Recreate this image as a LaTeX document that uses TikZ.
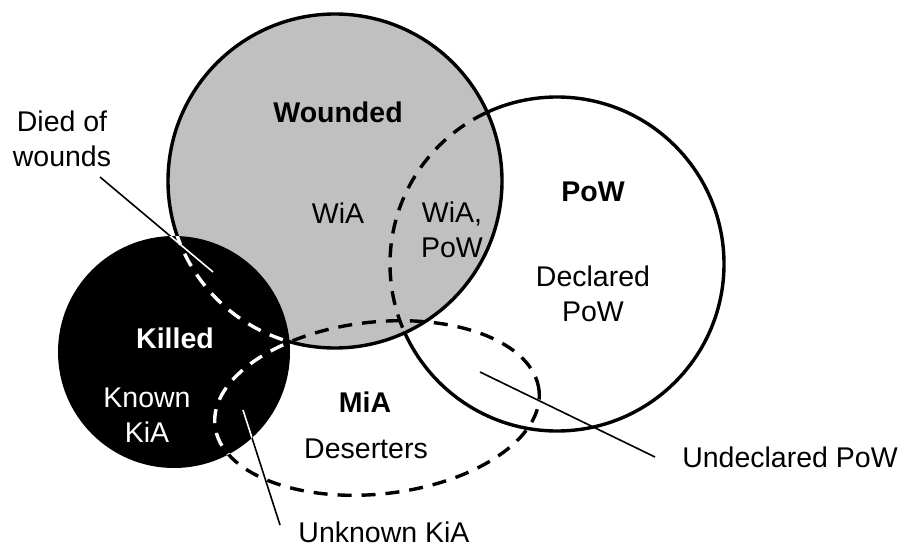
\documentclass[tikz,border=0pt]{standalone}
\usepackage{fontspec}
\setmainfont{Liberation Sans}
\definecolor{wgrey}{RGB}{192,192,192}
\begin{document}
\begin{tikzpicture}[x=1pt,y=-1pt,
  lbl/.style={font=\fontsize{28.5}{35}\selectfont, inner sep=0pt, align=center},
  bld/.style={font=\fontsize{28.5}{35}\selectfont\bfseries, inner sep=0pt, align=center},
  outline/.style={line width=3.4pt},
  dashline/.style={line width=3.4pt, dash pattern=on 14pt off 10pt},
  lead/.style={line width=1.6pt}]
\useasboundingbox (0,0) rectangle (904,548);
\fill[white] (0,0) rectangle (904,548);
% centres
\coordinate (cP) at (557,264);
\coordinate (cW) at (335,181);
\coordinate (cK) at (174,352);
\coordinate (cM) at (377,408);
% PoW
\path[fill=white, draw=black, outline] (cP) circle[radius=167pt];
% Wounded
\path[fill=wgrey, draw=black, outline] (cW) circle[radius=167pt];
\begin{scope}
  \clip (cW) circle[radius=167pt];
  \draw[dashline] (cP) circle[radius=167pt];
\end{scope}
% Killed
\fill[black] (cK) circle[radius=116pt];
% MiA
\draw[dashline, rotate around={6.2:(377,408)}] (377,408) ellipse[x radius=163pt, y radius=86pt];
% leader lines
\coordinate (dowA) at (100,177);
\coordinate (dowB) at (213,272);
\coordinate (ukA) at (243,410);
\coordinate (ukB) at (280,525);
\coordinate (udA) at (480,372);
\coordinate (udB) at (655,457);
\draw[lead] (dowA) -- (dowB);
\draw[lead] (ukA) -- (ukB);
\draw[lead] (udA) -- (udB);
% white parts inside Killed
\begin{scope}
  \clip (cK) circle[radius=116pt];
  \draw[dashline, white] (cW) circle[radius=167pt];
  \draw[dashline, white, rotate around={6.2:(377,408)}] (377,408) ellipse[x radius=163pt, y radius=86pt];
  \draw[lead, white] (dowA) -- (dowB);
  \draw[lead, white] (ukA) -- (ukB);
\end{scope}
% labels
\node[bld] (tW) at (338,112) {Wounded};
\node[lbl] (tWiA) at (338,213) {WiA};
\node[lbl] (tWP) at (452,230) {WiA,\\PoW};
\node[bld] (tP) at (593,192) {PoW};
\node[lbl] (tDP) at (593,294) {Declared\\PoW};
\node[bld, white] (tK) at (175,338) {Killed};
\node[lbl, white] (tKK) at (147,415) {Known\\KiA};
\node[bld] (tM) at (365,402) {MiA};
\node[lbl] (tD) at (366,449) {Deserters};
\node[lbl] (tDOW) at (62,139) {Died of\\wounds};
\node[lbl] (tUK) at (384,532) {Unknown KiA};
\node[lbl] (tUD) at (790,457) {Undeclared PoW};
\end{tikzpicture}
\end{document}
